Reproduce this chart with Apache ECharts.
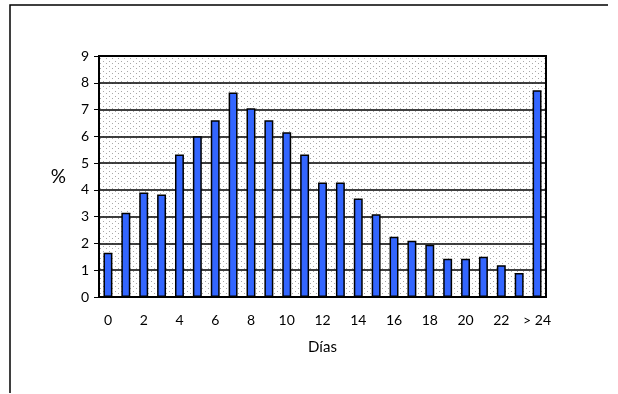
<!DOCTYPE html>
<html>
<head>
<meta charset="utf-8">
<script src="https://cdn.jsdelivr.net/npm/echarts@6/dist/echarts.min.js"></script>
<style>
  html, body { margin: 0; padding: 0; background: #fff; }
  #chart { width: 618px; height: 394px; }
</style>
</head>
<body>
<div id="chart"></div>
<script>
const dias = ['0','1','2','3','4','5','6','7','8','9','10','11','12','13','14','15','16','17','18','19','20','21','22','23','> 24']
const porcentaje = [1.65, 3.15, 3.9, 3.83, 5.32, 6.0, 6.6, 7.64, 7.05, 6.6, 6.15, 5.32, 4.28, 4.28, 3.68, 3.09, 2.25, 2.1, 1.95, 1.43, 1.43, 1.5, 1.19, 0.9, 7.72]

// dotted background like the old excel chart
function dotPattern() {
  const c = document.createElement('canvas')
  c.width = 6
  c.height = 5
  const ctx = c.getContext('2d')
  ctx.fillStyle = '#ffffff'
  ctx.fillRect(0, 0, 6, 5)
  ctx.fillStyle = '#a8a8a8'
  ctx.fillRect(1, 1, 1, 1)
  ctx.fillRect(4, 3, 1, 1)
  return c
}

const chart = echarts.init(document.getElementById('chart'))
const font = 'Lato, "Open Sans", sans-serif'

chart.setOption({
  animation: false,
  graphic: [
    {
      type: 'polyline',
      shape: { points: [[10, 393], [10, 5], [608, 5]] },
      style: { stroke: '#000', lineWidth: 1.5, fill: null }
    }
  ],
  grid: {
    left: 99,
    right: 72,
    top: 56,
    bottom: 97,
    show: true,
    backgroundColor: { image: dotPattern(), repeat: 'repeat' },
    borderColor: '#000',
    borderWidth: 2
  },
  xAxis: {
    type: 'category',
    data: dias,
    name: 'Días',
    nameLocation: 'middle',
    nameGap: 43,
    nameTextStyle: { fontFamily: font, fontSize: 15, color: '#000' },
    axisLine: { lineStyle: { color: '#000', width: 2 } },
    axisTick: { inside: true, length: 4, interval: 0, lineStyle: { color: '#000' } },
    axisLabel: { interval: 1, margin: 16, fontFamily: font, fontSize: 14, color: '#000' }
  },
  yAxis: {
    type: 'value',
    min: 0,
    max: 9,
    interval: 1,
    name: '%',
    nameLocation: 'middle',
    nameRotate: 0,
    nameGap: 33,
    nameTextStyle: { fontFamily: font, fontSize: 19, color: '#000' },
    axisLine: { show: true, lineStyle: { color: '#000', width: 2 } },
    axisTick: { show: true, length: 5, lineStyle: { color: '#000' } },
    axisLabel: { margin: 10, fontFamily: font, fontSize: 14, color: '#000' },
    splitLine: { lineStyle: { color: '#000', width: 1.5 } }
  },
  series: [
    {
      type: 'bar',
      data: porcentaje,
      barWidth: '50%',
      itemStyle: { color: '#3366ff', borderColor: '#000', borderWidth: 1.5 }
    }
  ]
})
</script>
</body>
</html>
